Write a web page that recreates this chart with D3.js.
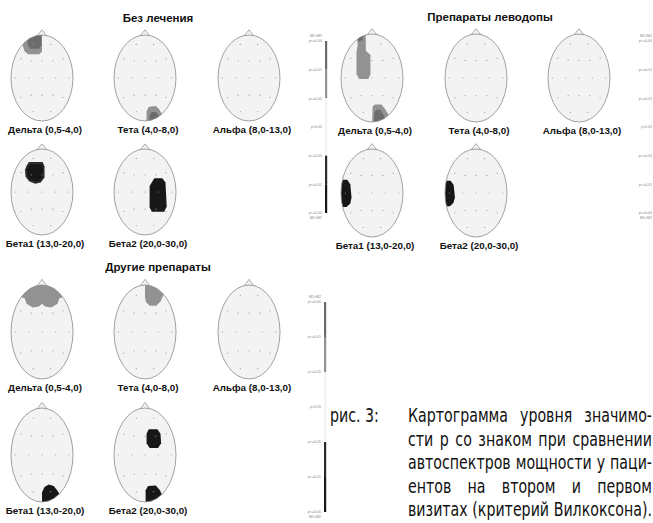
<!DOCTYPE html>
<html>
<head>
  <meta charset="utf-8">
  <title>Картограмма уровня значимости</title>
  <style>
    body { margin: 0; background: #fff; }
    svg { display: block; }
    .title { font-family: "Liberation Sans", Arial, sans-serif; font-weight: bold; font-size: 11.5px; fill: #111; }
    .band { font-family: "Liberation Sans", Arial, sans-serif; font-weight: bold; font-size: 9.8px; fill: #111; }
    .caption { font-family: "DejaVu Sans Condensed", "Liberation Sans Narrow", "Liberation Sans", sans-serif; font-size: 19px; fill: #111; }
    .leg { font-family: "Liberation Sans", sans-serif; font-size: 3.6px; fill: #888; }
  </style>
</head>
<body>
  <svg id="chart" width="653" height="523"></svg>

  <script src="https://d3js.org/d3.v7.min.js"></script>
  <script>
    // panels and bands
    const panelTitles = ["Без лечения", "Другие препараты", "Препараты леводопы"];
    const bandLabels = ["Дельта (0,5-4,0)", "Тета (4,0-8,0)", "Альфа (8,0-13,0)",
                        "Бета1 (13,0-20,0)", "Бета2 (20,0-30,0)"];

    // 10-20 electrodes, head coords (-1..1, y down)
    const electrodes = [
      ["Fp1", -0.28, -0.78], ["Fp2", 0.28, -0.78],
      ["F7", -0.68, -0.45], ["F3", -0.35, -0.40], ["Fz", 0, -0.40], ["F4", 0.35, -0.40], ["F8", 0.68, -0.45],
      ["T3", -0.86, 0], ["C3", -0.43, 0], ["Cz", 0, 0], ["C4", 0.43, 0], ["T4", 0.86, 0],
      ["T5", -0.68, 0.45], ["P3", -0.35, 0.40], ["Pz", 0, 0.40], ["P4", 0.35, 0.40], ["T6", 0.68, 0.45],
      ["O1", -0.28, 0.78], ["O2", 0.28, 0.78]
    ];

    // legend scale: tick labels and the level of each interval
    const legendTicks = ["p<=0.00", "p<=0.01", "p<=0.05", "p>0.05", "p<=0.05", "p<=0.01", "p<=0.00"];
    const legendLevels = ["g2", "g1", "n", "n", "b1", "b2"];
    const levelColors = { g2: "#6c6c6c", g1: "#929292", n: "#f3f3f3", b1: "#2b2b2b", b2: "#171717" };

    // significant regions: band index, level, outline in head coords
    const blobsNoTreatment = [
      { band: 0, level: "g1", pts: [[-0.62,-1.1],[0.0,-1.1],[0.0,-0.62],[-0.08,-0.55],[-0.45,-0.55],[-0.56,-0.62],[-0.62,-0.75]] },
      { band: 0, level: "g2", pts: [[-0.5,-1.1],[-0.02,-1.1],[-0.02,-0.76],[-0.1,-0.68],[-0.38,-0.68],[-0.46,-0.78]] },
      { band: 1, level: "g1", pts: [[0.05,1.1],[0.05,0.78],[0.12,0.67],[0.35,0.65],[0.45,0.72],[0.6,0.9],[0.6,1.1]] },
      { band: 1, level: "g2", pts: [[0.15,1.1],[0.15,0.86],[0.22,0.79],[0.35,0.79],[0.5,0.93],[0.5,1.1]] },
      { band: 3, level: "b1", pts: [[-0.42,-0.7],[0.02,-0.7],[0.08,-0.6],[0.08,-0.34],[-0.04,-0.22],[-0.22,-0.19],[-0.42,-0.25],[-0.53,-0.36],[-0.55,-0.52],[-0.49,-0.62]] },
      { band: 3, level: "b2", pts: [[-0.36,-0.64],[0.0,-0.64],[0.03,-0.56],[0.03,-0.36],[-0.07,-0.27],[-0.22,-0.25],[-0.38,-0.29],[-0.47,-0.38],[-0.48,-0.52],[-0.43,-0.6]] },
      { band: 4, level: "b2", pts: [[0.3,-0.32],[0.56,-0.32],[0.66,-0.22],[0.7,0.34],[0.62,0.46],[0.22,0.46],[0.15,0.36],[0.15,-0.14]] }
    ];
    const blobsOther = [
      { band: 0, level: "g1", pts: [[-1,-1.2],[1,-1.2],[1,-0.8],[0.56,-0.72],[0.5,-0.6],[0.3,-0.52],[0.1,-0.54],[0,-0.6],[-0.1,-0.54],[-0.3,-0.52],[-0.5,-0.6],[-0.56,-0.72],[-1,-0.8]] },
      { band: 1, level: "g1", pts: [[0,-1.1],[0.7,-1.1],[0.6,-0.8],[0.5,-0.65],[0.36,-0.56],[0.15,-0.56],[0.03,-0.64],[0,-0.75]] },
      { band: 3, level: "b2", pts: [[0.0,1.2],[0.0,0.8],[0.08,0.68],[0.22,0.63],[0.38,0.66],[0.5,0.76],[0.62,0.9],[0.62,1.2]] },
      { band: 4, level: "b2", pts: [[0.12,-0.55],[0.4,-0.55],[0.5,-0.45],[0.52,-0.25],[0.42,-0.15],[0.15,-0.15],[0.05,-0.25],[0.05,-0.45]] },
      { band: 4, level: "b2", pts: [[0.02,1.2],[0.02,0.75],[0.1,0.66],[0.35,0.65],[0.48,0.75],[0.6,0.92],[0.6,1.2]] }
    ];
    const blobsLevodopa = [
      { band: 0, level: "g1", pts: [[-0.5,-1.1],[-0.2,-1.1],[-0.2,-0.62],[-0.05,-0.52],[-0.05,-0.08],[-0.12,0.02],[-0.4,0.02],[-0.5,-0.08],[-0.5,-0.6],[-0.46,-0.75]] },
      { band: 0, level: "g2", pts: [[-0.48,-1.1],[-0.28,-1.1],[-0.3,-0.86],[-0.45,-0.83]] },
      { band: 0, level: "g1", pts: [[0.0,1.1],[0.02,0.65],[0.1,0.6],[0.3,0.6],[0.4,0.68],[0.55,0.85],[0.55,1.1]] },
      { band: 0, level: "g2", pts: [[0.05,1.1],[0.08,0.78],[0.15,0.72],[0.28,0.73],[0.4,0.88],[0.4,1.1]] },
      { band: 3, level: "b2", pts: [[-1.2,-0.3],[-0.8,-0.3],[-0.7,-0.2],[-0.66,0.1],[-0.7,0.24],[-0.82,0.32],[-1.2,0.32]] },
      { band: 4, level: "b2", pts: [[-1.2,-0.28],[-0.82,-0.28],[-0.72,-0.18],[-0.68,0.1],[-0.73,0.23],[-0.84,0.3],[-1.2,0.3]] }
    ];

    const captionLead = "рис. 3:";
    const captionLines = [
      "Картограмма уровня значимо-",
      "сти р со знаком при сравнении",
      "автоспектров мощности у паци-",
      "ентов на втором и первом",
      "визитах (критерий Вилкоксона)."
    ];

    // layout
    const panels = [
      { title: panelTitles[0], blobs: blobsNoTreatment, tx: 158, ty: 22, cols: [42, 145, 249], rows: [78, 192], rx: 31, ry: 43, legX: 326, legTop: 41, legBot: 213 },
      { title: panelTitles[1], blobs: blobsOther, tx: 158, ty: 271, cols: [42, 145, 249], rows: [332, 455], rx: 31, ry: 47, legX: 325, legTop: 302, legBot: 512 },
      { title: panelTitles[2], blobs: blobsLevodopa, tx: 490, ty: 21, cols: [372, 476, 579], rows: [78, 193], rx: 31, ry: 44, legX: 656, legTop: 41, legBot: 213 }
    ];

    const svg = d3.select("#chart");
    const defs = svg.append("defs");

    panels.forEach((p, pi) => {
      svg.append("text")
        .attr("class", "title")
        .attr("x", p.tx)
        .attr("y", p.ty)
        .attr("text-anchor", "middle")
        .text(p.title);

      bandLabels.forEach((label, b) => {
        const cx = p.cols[b < 3 ? b : b - 3];
        const cy = p.rows[b < 3 ? 0 : 1];
        const x = d3.scaleLinear().domain([-1, 1]).range([cx - p.rx, cx + p.rx]);
        const y = d3.scaleLinear().domain([-1, 1]).range([cy - p.ry, cy + p.ry]);
        const id = `clip-${pi}-${b}`;

        defs.append("clipPath").attr("id", id)
          .append("ellipse")
          .attr("cx", x(0)).attr("cy", y(0))
          .attr("rx", x(1) - x(0)).attr("ry", y(1) - y(0));

        const g = svg.append("g");

        // nose
        g.append("path")
          .attr("d", d3.line().x(d => x(d[0])).y(d => y(d[1]))([[-0.17, -0.97], [0, -1.12], [0.17, -0.97]]))
          .style("fill", "#f3f3f3")
          .style("stroke", "#8a8a8a")
          .style("stroke-width", 0.7);

        g.append("ellipse")
          .attr("cx", x(0)).attr("cy", y(0))
          .attr("rx", x(1) - x(0)).attr("ry", y(1) - y(0))
          .style("fill", "#f3f3f3")
          .style("stroke", "none");

        const blobLine = d3.line()
          .x(d => x(d[0]))
          .y(d => y(d[1]))
          .curve(d3.curveLinearClosed);

        g.append("g")
          .attr("clip-path", `url(#${id})`)
          .selectAll("path")
          .data(p.blobs.filter(d => d.band === b))
          .join("path")
          .attr("d", d => blobLine(d.pts))
          .style("fill", d => levelColors[d.level]);

        g.selectAll("circle")
          .data(electrodes)
          .join("circle")
          .attr("cx", d => x(d[1]))
          .attr("cy", d => y(d[2]))
          .attr("r", 0.6)
          .style("fill", "#9a9a9a");

        g.append("ellipse")
          .attr("cx", x(0)).attr("cy", y(0))
          .attr("rx", x(1) - x(0)).attr("ry", y(1) - y(0))
          .style("fill", "none")
          .style("stroke", "#8a8a8a")
          .style("stroke-width", 0.8);

        g.append("text")
          .attr("class", "band")
          .attr("x", x(0) + 3)
          .attr("y", y(1) + 12)
          .attr("text-anchor", "middle")
          .text(label);
      });

      // legend
      const ly = d3.scalePoint().domain(d3.range(legendTicks.length)).range([p.legTop, p.legBot]);
      svg.append("g").selectAll("rect")
        .data(legendLevels)
        .join("rect")
        .attr("x", p.legX - 1)
        .attr("y", (d, i) => ly(i))
        .attr("width", 2.2)
        .attr("height", (d, i) => ly(i + 1) - ly(i))
        .style("fill", d => levelColors[d]);

      svg.append("g").selectAll("text")
        .data(legendTicks)
        .join("text")
        .attr("class", "leg")
        .attr("x", p.legX - 4)
        .attr("y", (d, i) => ly(i) + 1.2)
        .attr("text-anchor", "end")
        .text(d => d);

      svg.append("text").attr("class", "leg")
        .attr("x", p.legX - 4).attr("y", p.legTop - 4)
        .attr("text-anchor", "end").text("M1>M2");
      svg.append("text").attr("class", "leg")
        .attr("x", p.legX - 4).attr("y", p.legBot + 5.5)
        .attr("text-anchor", "end").text("M1<M2");
    });

    // caption: condensed, justified between capX0 and capX1
    const capX0 = 408, capX1 = 652, capY0 = 422, capStep = 23.6;
    const capWidth = capX1 - capX0;

    // horizontal squeeze so that the last line fills the column naturally
    const probe = svg.append("text").attr("class", "caption").text(captionLines[captionLines.length - 1]);
    const k = Math.min(1, capWidth / probe.node().getComputedTextLength());
    probe.remove();

    svg.append("text")
      .attr("class", "caption")
      .attr("transform", `translate(330,${capY0}) scale(${k},1)`)
      .text(captionLead);

    captionLines.forEach((line, i) => {
      const words = line.split(" ");
      const t = svg.append("text")
        .attr("class", "caption")
        .attr("transform", `translate(${capX0},${capY0 + i * capStep}) scale(${k},1)`);
      const spans = words.map(w => t.append("tspan").attr("y", 0).text(w));
      const widths = spans.map(s => s.node().getComputedTextLength());
      const total = d3.sum(widths);
      const gap = Math.max(3, (capWidth / k - total) / (words.length - 1));
      let cur = 0;
      spans.forEach((s, j) => {
        s.attr("x", cur);
        cur += widths[j] + gap;
      });
    });
  </script>
</body>
</html>
